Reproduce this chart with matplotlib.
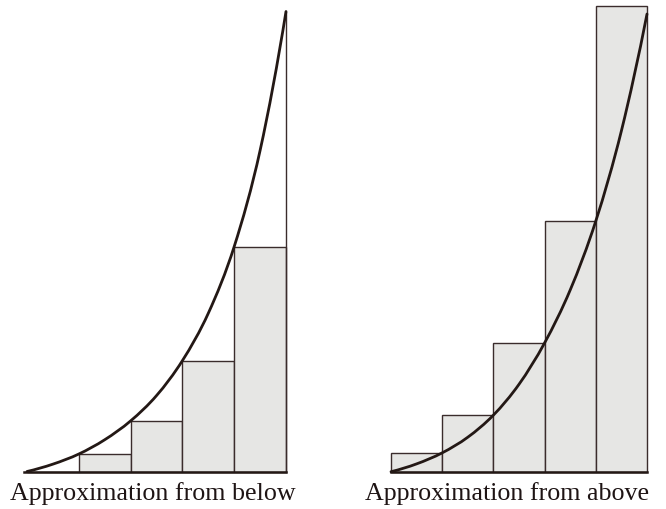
import matplotlib
matplotlib.use("Agg")
import matplotlib.pyplot as plt
import numpy as np
from matplotlib.path import Path
from matplotlib.patches import PathPatch

# curve samples (x in interval units, y in height units)
curve_x = [0, 0.5, 1, 1.5, 2, 2.5, 3, 3.5, 4, 4.5, 5]
curve_below = [0, 0.16, 0.38, 0.69, 1.10, 1.65, 2.41, 3.44, 4.89, 6.98, 10.0]
curve_above = [0, 0.17, 0.41, 0.75, 1.23, 1.90, 2.80, 3.95, 5.45, 7.41, 9.95]

# rectangle heights for the five subintervals
edges = [0, 1, 2, 3, 4]
rects_below = [0, 0.38, 1.10, 2.41, 4.89]
rects_above = [0.41, 1.23, 2.80, 5.45, 10.12]

titles = ["Approximation from below", "Approximation from above"]

W, H = 666, 509
fig = plt.figure(figsize=(W / 100, H / 100), dpi=100)
fig.patch.set_facecolor("white")

fill = "#e6e6e4"
edge = "#3a2c2c"
ink = "#231815"


def make_axes(px0, px1, x_origin, x_unit, base_px, y_unit):
    # axes spanning a vertical strip of the figure, data mapped to pixels
    ax = fig.add_axes([px0 / W, 0, (px1 - px0) / W, 1])
    ax.set_xlim((px0 - x_origin) / x_unit, (px1 - x_origin) / x_unit)
    ax.set_ylim(-(H - base_px) / y_unit, base_px / y_unit)
    ax.axis("off")
    return ax


def smooth_curve(ax, xs, ys, **kw):
    # draw a smooth bezier path through the sampled points
    xs = np.asarray(xs, float)
    ys = np.asarray(ys, float)
    h = np.diff(xs)
    d = np.diff(ys) / h
    m = np.empty_like(ys)
    m[1:-1] = (d[1:] * h[:-1] + d[:-1] * h[1:]) / (h[:-1] + h[1:])
    m[0] = max(2 * d[0] - m[1], 0)
    m[-1] = 2 * d[-1] - m[-2]
    verts = [(xs[0], ys[0])]
    codes = [Path.MOVETO]
    for i in range(len(h)):
        verts += [(xs[i] + h[i] / 3, ys[i] + m[i] * h[i] / 3),
                  (xs[i + 1] - h[i] / 3, ys[i + 1] - m[i + 1] * h[i] / 3),
                  (xs[i + 1], ys[i + 1])]
        codes += [Path.CURVE4] * 3
    ax.add_patch(PathPatch(Path(verts, codes), fill=False, **kw))


# left panel: lower sum
ax1 = make_axes(0, 333, 27, 51.8, 471.5, 46)
ax1.bar(edges, rects_below, width=1, align="edge", color=fill,
        edgecolor=edge, linewidth=1.0, zorder=1)
ax1.plot([curve_x[-1], curve_x[-1]], [0, curve_below[-1]], color=edge, lw=1.0, zorder=2)
ax1.plot([-0.05, 5], [0, 0], color=ink, lw=1.8, zorder=3)
smooth_curve(ax1, curve_x, curve_below, edgecolor=ink, lw=2.0, zorder=4,
             capstyle="round", joinstyle="round")

# right panel: upper sum
ax2 = make_axes(333, 666, 391, 51.2, 471.7, 46)
ax2.bar(edges, rects_above, width=1, align="edge", color=fill,
        edgecolor=edge, linewidth=1.0, zorder=1)
ax2.plot([0, 5], [0, 0], color=ink, lw=1.8, zorder=3)
smooth_curve(ax2, curve_x, curve_above, edgecolor=ink, lw=2.0, zorder=4,
             capstyle="round", joinstyle="round")

# captions
fig.text(153 / W, 1 - 500 / H, titles[0], ha="center", va="baseline",
         family="Liberation Serif", fontsize=18.7, color="#1e1414")
fig.text(507 / W, 1 - 500 / H, titles[1], ha="center", va="baseline",
         family="Liberation Serif", fontsize=18.7, color="#1e1414")

fig.savefig("out.png", dpi=100, facecolor="white")
